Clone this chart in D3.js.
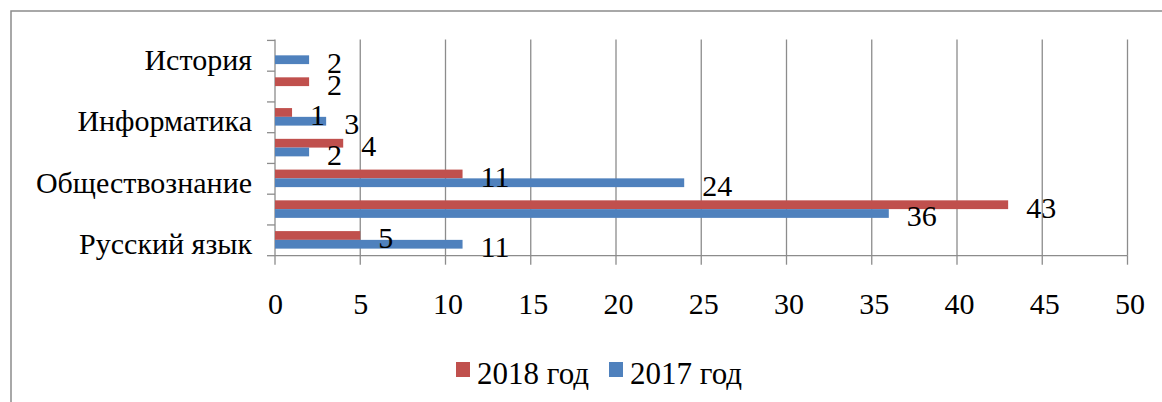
<!DOCTYPE html>
<html>
<head>
<meta charset="utf-8">
<script src="https://cdn.jsdelivr.net/npm/d3@7"></script>
</head>
<body style="margin:0">
<script>
// Data (categories listed bottom to top; unlabeled rows are skipped labels)
const categories = ['Русский язык', '', 'Обществознание', '', 'Информатика', '', 'История']
const series2018 = [5, 43, 11, 4, 1, 2, null]
const series2017 = [11, 36, 24, 2, 3, null, 2]
const seriesNames = ['2018 год', '2017 год']
const xTicks = [0, 5, 10, 15, 20, 25, 30, 35, 40, 45, 50]

// Colors
const seriesColors = ['#C0504D', '#4F81BD']
const gridColor = '#8c8c8c'

// Dimensions
const width = 1162
const height = 402
const plotLeft = 275
const plotRight = 1127.5
const plotTop = 39.5
const plotBottom = 255.7
const fontFamily = '"Liberation Serif"'
const fontSize = '30px'

const svg = d3.select('body')
    .append('svg')
    .attr('width', width)
    .attr('height', height)

const styleText = sel => sel
    .attr('font-family', 'Liberation Serif')
    .style('font-family', fontFamily)
    .style('font-size', fontSize)
    .style('fill', '#000')

// Outer chart border (extends past the picture on right and bottom)
svg.append('rect')
    .attr('x', 11)
    .attr('y', 11)
    .attr('width', 1300)
    .attr('height', 600)
    .attr('fill', 'none')
    .attr('stroke', gridColor)
    .attr('stroke-width', 1.5)

// Scales
const x = d3.scaleLinear().domain([0, 50]).range([plotLeft, plotRight])
const y = d3.scaleBand()
    .domain(d3.range(categories.length))
    .range([plotBottom, plotTop])
    .paddingInner(0.43)
    .paddingOuter(0.23)
const step = y.step()
const ySeries = d3.scaleBand().domain([0, 1]).range([0, y.bandwidth()])

// Gridlines
svg.append('g')
    .selectAll('line')
    .data(xTicks.slice(1))
    .join('line')
    .attr('x1', d => x(d))
    .attr('x2', d => x(d))
    .attr('y1', plotTop)
    .attr('y2', plotBottom)
    .attr('stroke', gridColor)
    .attr('stroke-width', 1.3)

// Bottom axis: line and ticks
svg.append('line')
    .attr('x1', plotLeft).attr('x2', plotRight)
    .attr('y1', plotBottom).attr('y2', plotBottom)
    .attr('stroke', gridColor).attr('stroke-width', 1.3)
svg.append('g')
    .selectAll('line')
    .data(xTicks)
    .join('line')
    .attr('x1', d => x(d)).attr('x2', d => x(d))
    .attr('y1', plotBottom).attr('y2', plotBottom + 9)
    .attr('stroke', gridColor).attr('stroke-width', 1.3)
svg.selectAll('text.xtick')
    .data(xTicks)
    .join('text')
    .attr('class', 'xtick')
    .attr('x', d => x(d) + (String(d).length > 1 ? 2.5 : 0.5))
    .attr('y', plotBottom + 58)
    .attr('text-anchor', 'middle')
    .call(styleText)
    .text(d => d)

// Left axis line and ticks at band boundaries
svg.append('line')
    .attr('x1', plotLeft).attr('x2', plotLeft)
    .attr('y1', plotTop).attr('y2', plotBottom)
    .attr('stroke', gridColor).attr('stroke-width', 1.3)
svg.append('g')
    .selectAll('line')
    .data(d3.range(categories.length + 1))
    .join('line')
    .attr('x1', plotLeft - 8).attr('x2', plotLeft)
    .attr('y1', d => plotBottom - d * step)
    .attr('y2', d => plotBottom - d * step)
    .attr('stroke', gridColor).attr('stroke-width', 1.3)

// Category labels
svg.selectAll('text.cat')
    .data(categories)
    .join('text')
    .attr('class', 'cat')
    .attr('x', 252)
    .attr('y', (d, i) => plotBottom - (i + 0.5) * step + 14)
    .attr('text-anchor', 'end')
    .call(styleText)
    .text(d => d)

// Bars first, then data labels on top of every bar
const allSeries = [series2018, series2017]
const seriesRows = allSeries.map(values =>
    values.map((v, i) => ({ v, i })).filter(d => d.v !== null))

seriesRows.forEach((rows, s) => {
    svg.selectAll('rect.bar' + s)
        .data(rows)
        .join('rect')
        .attr('class', 'bar' + s)
        .attr('x', x(0))
        .attr('y', d => y(d.i) + ySeries(s))
        .attr('width', d => x(d.v) - x(0))
        .attr('height', ySeries.bandwidth())
        .attr('fill', seriesColors[s])
})

seriesRows.forEach((rows, s) => {
    svg.selectAll('text.val' + s)
        .data(rows)
        .join('text')
        .attr('class', 'val' + s)
        .attr('x', d => x(d.v) + 18)
        .attr('y', d => y(d.i) + ySeries(s) + ySeries.bandwidth() / 2 + 13)
        .call(styleText)
        .text(d => d.v)
})

// Legend
const legendX = [456, 609]
seriesNames.forEach((name, s) => {
    svg.append('rect')
        .attr('x', legendX[s])
        .attr('y', 362)
        .attr('width', 14)
        .attr('height', 15)
        .attr('fill', seriesColors[s])
    svg.append('text')
        .attr('x', legendX[s] + 21)
        .attr('y', 384)
        .call(styleText)
        .style('font-size', '31px')
        .text(name)
})
</script>
</body>
</html>
